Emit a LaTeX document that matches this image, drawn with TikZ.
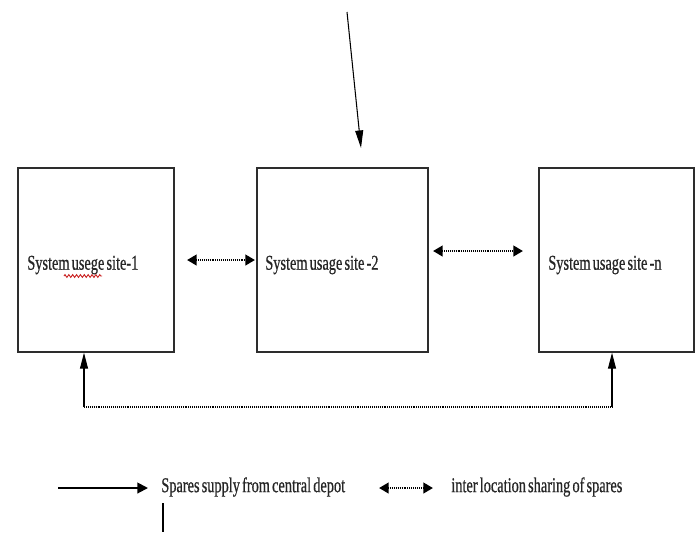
\documentclass[tikz,border=0pt]{standalone}
\usepackage{fontspec}
\usetikzlibrary{arrows.meta,positioning,decorations.pathmorphing}
\newfontfamily\diagfont[FakeStretch=0.68,WordSpace=0.6,FakeBold=0.6]{Liberation Serif}
\definecolor{frame}{RGB}{45,45,45}
\definecolor{squig}{RGB}{200,30,30}

\begin{document}
\begin{tikzpicture}[x=0.02cm,y=-0.02cm,
    sitebox/.style={draw=frame,line width=1pt,minimum height=3.68cm,anchor=north west,inner sep=0pt},
    sitelabel/.style={font=\diagfont\fontsize{12}{14}\selectfont,anchor=west,inner sep=0pt,text=black!85},
    supply/.style={-{Triangle[length=9pt,width=4.5pt]},line width=0.6pt},
    sharing/.style={{Triangle[length=5.5pt,width=6pt]}-{Triangle[length=5.5pt,width=6pt]},line width=1.6pt,dash pattern=on 0.5pt off 0.6pt},
    shareline/.style={line width=1.6pt,dash pattern=on 0.5pt off 0.6pt}]
  \useasboundingbox (0,0) rectangle (699,532);

  % usage sites
  \node[sitebox,minimum width=3.12cm] (site1) at (17,167) {};
  \node[sitebox,minimum width=3.42cm] (site2) at (256,167) {};
  \node[sitebox,minimum width=3.10cm] (site3) at (538,167) {};
  \node[sitelabel] (lbl1) at (27,265) {System usege site-1};
  \node[sitelabel] (lbl2) at (265,265) {System usage site -2};
  \node[sitelabel] (lbl3) at (548,265) {System usage site -n};
  \draw[squig,line width=0.5pt,decorate,decoration={zigzag,segment length=2.2pt,amplitude=0.8pt}] (64,276) -- (102,276);

  % supply from depot
  \coordinate (depot) at (347,12);
  \coordinate (depotend) at (361,148);
  \draw[-{Triangle[length=10pt,width=4.5pt]},line width=0.6pt] (depot) -- (depotend);

  % sharing between sites
  \coordinate (s1a) at (187,260);
  \coordinate (s1b) at (255,260);
  \coordinate (s2a) at (433,251);
  \coordinate (s2b) at (523,251);
  \draw[sharing] (s1a) -- (s1b);
  \draw[sharing] (s2a) -- (s2b);

  \coordinate (loopL) at (84,407);
  \coordinate (loopR) at (612,407);
  \draw[shareline] (loopL) -- (loopR);
  \draw[supply] (loopL) -- (loopL |- site1.south);
  \draw[supply] (loopR) -- (loopR |- site3.south);

  % legend
  \coordinate (keyA) at (58,488);
  \coordinate (keyB) at (148,488);
  \draw[-{Triangle[length=6pt,width=6pt]},line width=1.1pt] (keyA) -- (keyB);
  \node[sitelabel] (key1) at (161,487) {Spares supply from central depot};
  \coordinate (keyC) at (379,488);
  \coordinate (keyD) at (433,488);
  \draw[sharing] (keyC) -- (keyD);
  \node[sitelabel] (key2) at (451,487) {inter location sharing of spares};
  \draw[line width=1.3pt] (163,503) -- (163,532);
\end{tikzpicture}
\end{document}
